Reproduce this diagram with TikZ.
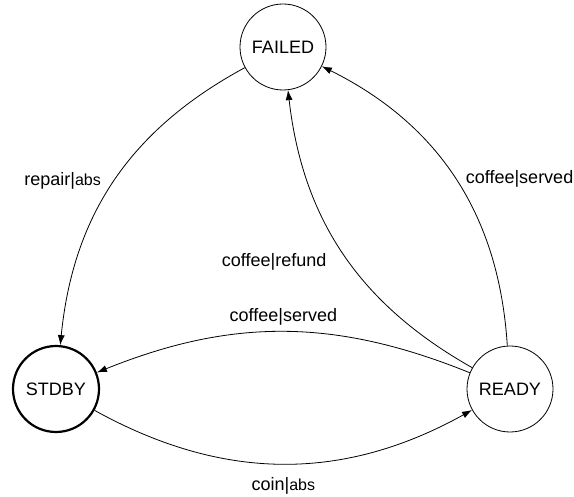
\documentclass[tikz,border=0pt]{standalone}
\usepackage{fontspec}
\setmainfont{Liberation Sans}
\usetikzlibrary{positioning,arrows.meta}

\tikzset{
  state/.style={draw,circle,minimum size=86pt,inner sep=0pt,line width=0.8pt},
  initstate/.style={line width=2.2pt},
  trans/.style={-{Latex[length=10pt,width=7pt]},line width=0.8pt},
  lbl/.style={inner sep=0pt},
}
\newcommand{\outabs}{{\fontsize{16}{20}\selectfont abs}}

\begin{document}
\begin{tikzpicture}[x=1pt,y=-1pt,font=\fontsize{18}{22}\selectfont,on grid]
\useasboundingbox (0,0) rectangle (574,497);

\node[state](failed) at (283,47){FAILED};
\node[state,initstate,below left=342pt and 227pt of failed](stdby){STDBY};
\node[state,right=454pt of stdby](ready){READY};

  \draw [trans] (failed) to [bend right=28] node[lbl,midway,left=13pt]{repair|\outabs} (stdby);
  \draw [trans] (ready) to [bend right=30] node[lbl,midway,right=10pt]{coffee|served} (failed);
  \draw [trans] (ready) to [bend left=27] node[lbl,pos=0.47,left=22pt]{coffee|refund} (failed);
  \draw [trans] (ready) to [bend right=22] node[lbl,midway,above=6pt]{coffee|served} (stdby);
  \draw [trans] (stdby) to [bend right=29] node[lbl,midway,below=13pt]{coin|\outabs} (ready);

\end{tikzpicture}
\end{document}
